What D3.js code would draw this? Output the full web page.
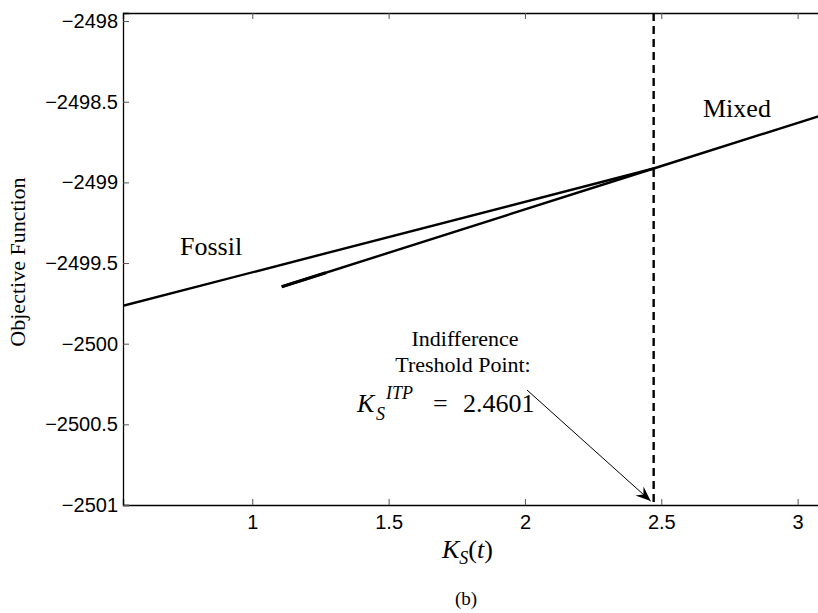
<!DOCTYPE html>
<html>
<head>
<meta charset="utf-8">
<script src="https://cdn.jsdelivr.net/npm/d3@7"></script>
<style>
  body { margin: 0; background: #fff; }
  svg { display: block; }
  .tick text { font-family: "Liberation Sans", Arial, sans-serif; font-size: 20px; fill: #000; }
  .serif { font-family: "Liberation Serif", "Times New Roman", serif; fill: #000; }
</style>
</head>
<body>
<svg id="chart" width="818" height="613"></svg>
<script>
// values
const fossilX = [0.526, 2.472];
const fossilY = [-2499.765, -2498.914];
const mixedX = [1.108, 2.472, 3.082];
const mixedY = [-2499.647, -2498.914, -2498.587];
const overlapX = [1.108, 1.27];
const overlapY = [-2499.647, -2499.56];
const itpValue = 2.472;
const itpLabel = "2.4601";
const xTicks = [1, 1.5, 2, 2.5, 3];
const yTicks = [-2498, -2498.5, -2499, -2499.5, -2500, -2500.5, -2501];

const margin = { left: 123, top: 13, right: 820, bottom: 505 };
const svg = d3.select("#chart");

const x = d3.scaleLinear().domain([0.526, 3.082]).range([margin.left, margin.right]);
const y = d3.scaleLinear().domain([-2501, -2497.95]).range([margin.bottom, margin.top]);

const fmt = v => String(v).replace("-", "\u2212");

svg.append("defs").append("clipPath").attr("id", "clip")
  .append("rect")
  .attr("x", margin.left).attr("y", margin.top)
  .attr("width", margin.right - margin.left)
  .attr("height", margin.bottom - margin.top);

// axes
const xAxis = svg.append("g")
  .attr("transform", `translate(0,${margin.bottom})`)
  .call(d3.axisBottom(x).tickValues(xTicks).tickSize(-6).tickPadding(10).tickFormat(d => d));
const xTop = svg.append("g")
  .attr("transform", `translate(0,${margin.top})`)
  .call(d3.axisTop(x).tickValues(xTicks).tickSize(-6).tickFormat(""));
const yAxis = svg.append("g")
  .attr("transform", `translate(${margin.left},0)`)
  .call(d3.axisLeft(y).tickValues(yTicks).tickSize(-6).tickPadding(5).tickFormat(fmt));

[xAxis, xTop, yAxis].forEach(g => {
  g.select(".domain").attr("stroke", "#000").attr("stroke-width", 1.3);
  g.selectAll(".tick line").attr("stroke", "#555").attr("stroke-width", 1);
});

const plot = svg.append("g").attr("clip-path", "url(#clip)");
const line = d3.line().x(d => x(d[0])).y(d => y(d[1]));

plot.append("path")
  .datum(d3.zip(fossilX, fossilY))
  .attr("d", line)
  .attr("fill", "none").attr("stroke", "#000").attr("stroke-width", 2.4);

plot.append("path")
  .datum(d3.zip(mixedX, mixedY))
  .attr("d", line)
  .attr("fill", "none").attr("stroke", "#000").attr("stroke-width", 2.4);

plot.append("path")
  .datum(d3.zip(overlapX, overlapY))
  .attr("d", line)
  .attr("fill", "none").attr("stroke", "#000").attr("stroke-width", 3.2);

// indifference threshold
plot.append("line")
  .attr("x1", x(itpValue)).attr("x2", x(itpValue))
  .attr("y1", margin.top).attr("y2", margin.bottom)
  .attr("stroke", "#000").attr("stroke-width", 2.4)
  .attr("stroke-dasharray", "8,5");

// labels
svg.append("text").attr("class", "serif")
  .attr("x", 703).attr("y", 117).attr("font-size", 26).text("Mixed");
svg.append("text").attr("class", "serif")
  .attr("x", 180).attr("y", 255).attr("font-size", 26).text("Fossil");

const note = svg.append("text").attr("class", "serif")
  .attr("font-size", 22).attr("text-anchor", "middle");
note.append("tspan").attr("x", 465).attr("y", 346).text("Indifference");
note.append("tspan").attr("x", 463).attr("y", 372).text("Treshold Point:");

// K_S^ITP = 2.4601
const eqY = 412;
svg.append("text").attr("class", "serif").attr("font-style", "italic")
  .attr("x", 357).attr("y", eqY).attr("font-size", 26).text("K");
svg.append("text").attr("class", "serif").attr("font-style", "italic")
  .attr("x", 376).attr("y", eqY + 8).attr("font-size", 18).text("S");
svg.append("text").attr("class", "serif").attr("font-style", "italic")
  .attr("x", 386).attr("y", eqY - 13).attr("font-size", 18).text("ITP");
svg.append("text").attr("class", "serif")
  .attr("x", 433).attr("y", eqY).attr("font-size", 26).text("=");
svg.append("text").attr("class", "serif")
  .attr("x", 463).attr("y", eqY).attr("font-size", 26).text(itpLabel);

// arrow
const ax0 = 527, ay0 = 390;
const ax1 = x(itpValue) - 3, ay1 = y(-2501) - 4;
svg.append("line")
  .attr("x1", ax0).attr("y1", ay0).attr("x2", ax1).attr("y2", ay1)
  .attr("stroke", "#000").attr("stroke-width", 1);
const ang = Math.atan2(ay1 - ay0, ax1 - ax0);
const hl = 15, hw = 6;
const pt = (l, w) => [ax1 - l * Math.cos(ang) - w * Math.sin(ang), ay1 - l * Math.sin(ang) + w * Math.cos(ang)];
svg.append("path")
  .attr("d", "M" + [ax1, ay1] + "L" + pt(hl, hw) + "L" + pt(hl * 0.65, 0) + "L" + pt(hl, -hw) + "Z")
  .attr("fill", "#000");

// axis titles
svg.append("text").attr("class", "serif")
  .attr("transform", "translate(25,262) rotate(-90)")
  .attr("text-anchor", "middle").attr("font-size", 22).text("Objective Function");

const xl = svg.append("text").attr("class", "serif")
  .attr("x", 442).attr("y", 558).attr("font-size", 26);
xl.append("tspan").attr("font-style", "italic").text("K");
xl.append("tspan").attr("font-style", "italic").attr("font-size", 18).attr("dy", 6).text("S");
xl.append("tspan").attr("dy", -6).text("(");
xl.append("tspan").attr("font-style", "italic").text("t");
xl.append("tspan").text(")");

svg.append("text").attr("class", "serif")
  .attr("x", 466).attr("y", 605).attr("text-anchor", "middle").attr("font-size", 19).text("(b)");
</script>
</body>
</html>
